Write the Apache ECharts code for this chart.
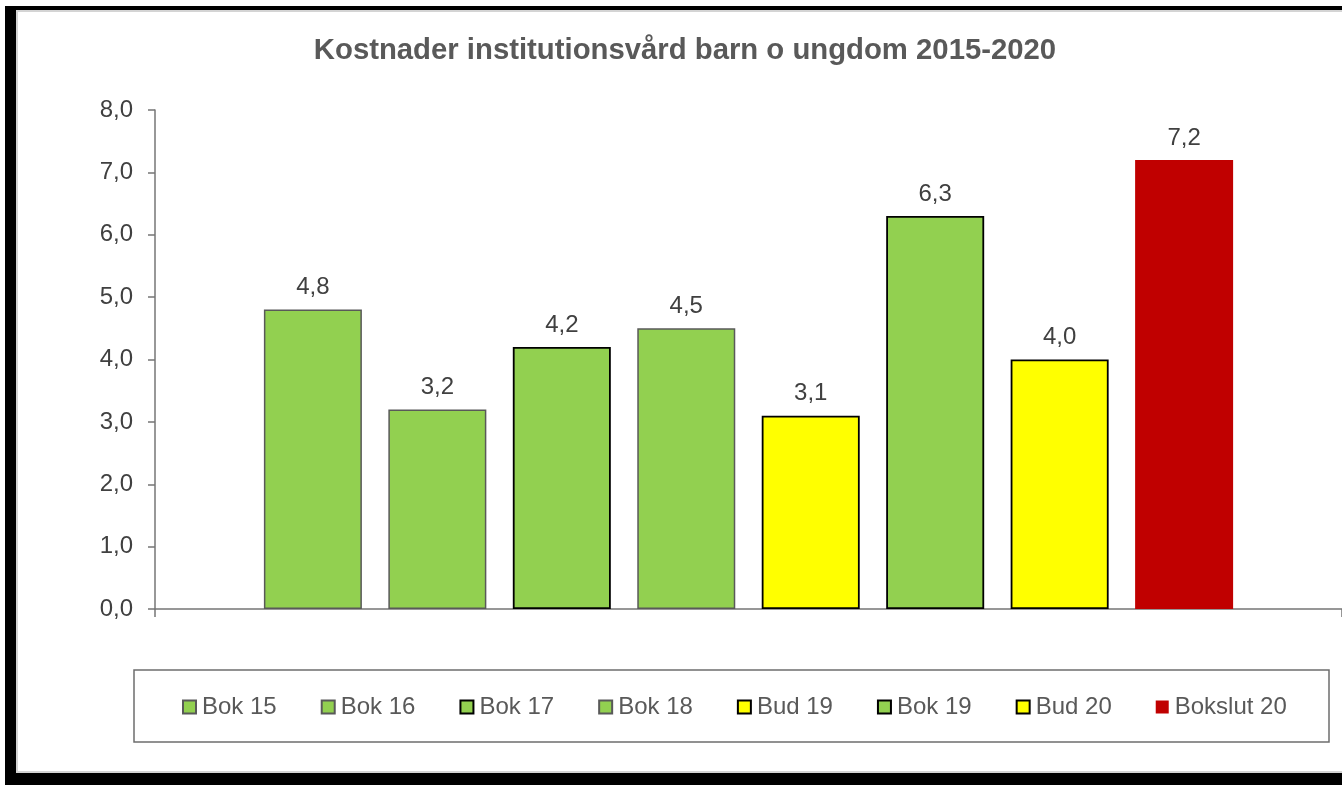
<!DOCTYPE html>
<html>
<head>
<meta charset="utf-8">
<script src="https://cdn.jsdelivr.net/npm/echarts@6/dist/echarts.min.js"></script>
<style>
html,body{margin:0;padding:0;background:#fff;}
#c{width:1342px;height:785px;}
</style>
</head>
<body>
<div id="c"></div>
<script>
const titleText = 'Kostnader institutionsvård barn o ungdom 2015-2020';
const seriesNames = ['Bok 15','Bok 16','Bok 17','Bok 18','Bud 19','Bok 19','Bud 20','Bokslut 20'];
const values = [4.8, 3.2, 4.2, 4.5, 3.1, 6.3, 4.0, 7.2];
const yTicks = [0,1,2,3,4,5,6,7,8];

const fillColors = ['#92D050','#92D050','#92D050','#92D050','#FFFF00','#92D050','#FFFF00','#C00000'];
const borderColors = ['#595959','#595959','#000000','#595959','#000000','#000000','#000000','transparent'];
const borderWidths = [1.5,1.5,1.8,1.5,1.8,1.8,1.8,0];

const fmt = v => Number(v).toFixed(1).replace('.', ',');
const FONT = 'Liberation Sans, Arial, sans-serif';

const chart = echarts.init(document.getElementById('c'), null, {renderer:'canvas'});

const series = seriesNames.map((n,i) => ({
  name: n,
  type: 'bar',
  data: [values[i]],
  barWidth: 98,
  barGap: '27%',
  itemStyle: { color: fillColors[i], borderColor: borderColors[i], borderWidth: borderWidths[i] },
  label: {
    show: true, position: 'top', distance: 10,
    formatter: p => fmt(p.value),
    fontFamily: FONT, fontSize: 24, color: '#404040'
  },
  emphasis: { disabled: true },
  animation: false
}));

chart.setOption({
  animation: false,
  backgroundColor: '#ffffff',
  title: {
    text: titleText,
    left: 680, top: 31, textAlign: 'center',
    textStyle: { fontFamily: FONT, fontSize: 29.3, fontWeight: 'bold', color: '#595959' }
  },
  grid: { left: 155, right: 0, top: 110, bottom: 176, containLabel: false },
  xAxis: {
    type: 'category',
    data: [''],
    axisLine: { show: true, lineStyle: { color: '#767676', width: 1.5 } },
    axisTick: { show: true, length: 8, lineStyle: { color: '#767676', width: 1.5 } },
    axisLabel: { show: false }
  },
  yAxis: {
    type: 'value',
    min: yTicks[0], max: yTicks[yTicks.length-1], interval: 1,
    axisLine: { show: true, lineStyle: { color: '#767676', width: 1.5 } },
    axisTick: { show: true, length: 7, lineStyle: { color: '#767676', width: 1.5 } },
    splitLine: { show: false },
    axisLabel: {
      formatter: v => fmt(v), margin: 22,
      fontFamily: FONT, fontSize: 24, color: '#404040'
    }
  },
  legend: {
    data: seriesNames,
    left: 177, top: 690,
    itemWidth: 13, itemHeight: 13, itemGap: 44,
    icon: 'rect',
    selectedMode: false,
    textStyle: { fontFamily: FONT, fontSize: 24, color: '#595959', padding: [0,0,0,1] }
  },
  graphic: [
    { type: 'rect', shape: { x: 134, y: 670, width: 1195, height: 72 }, style: { fill: 'none', stroke: '#6d6d6d', lineWidth: 1.5 }, z: 0 },
    { type: 'rect', shape: { x: 5, y: 6, width: 1337, height: 4 }, style: { fill: '#000' }, z: 10 },
    { type: 'rect', shape: { x: 5, y: 10, width: 1337, height: 2 }, style: { fill: '#d4d4d4' }, z: 10 },
    { type: 'rect', shape: { x: 5, y: 6, width: 11, height: 779 }, style: { fill: '#000' }, z: 11 },
    { type: 'rect', shape: { x: 16, y: 12, width: 2, height: 760 }, style: { fill: '#d4d4d4' }, z: 10 },
    { type: 'rect', shape: { x: 16, y: 771, width: 1326, height: 2 }, style: { fill: '#d4d4d4' }, z: 10 },
    { type: 'rect', shape: { x: 5, y: 773, width: 1337, height: 12 }, style: { fill: '#000' }, z: 11 }
  ],
  series: series
});
</script>
</body>
</html>
